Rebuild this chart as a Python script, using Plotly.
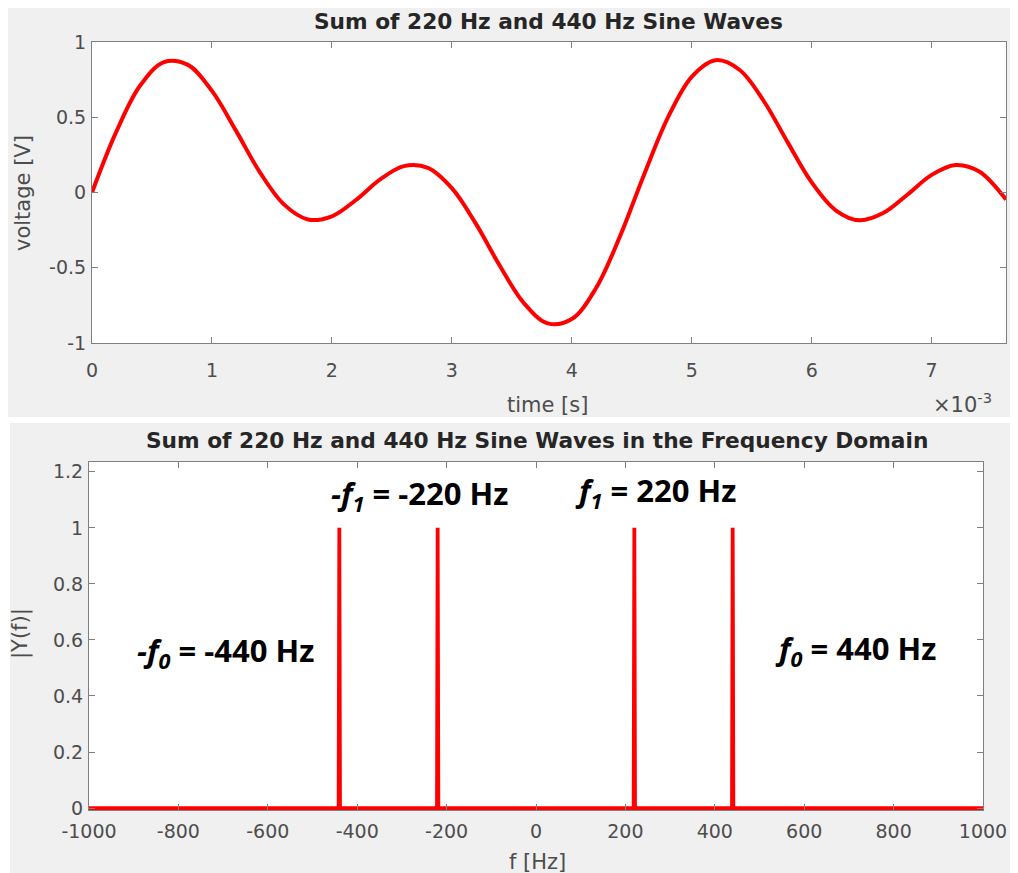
import plotly.graph_objects as go

# ---- data ----
time_ms = [0.0, 0.2, 0.4, 0.6, 0.8, 1.0, 1.2, 1.4, 1.6, 1.8, 2.0, 2.2, 2.4, 2.6, 2.8,
           3.0, 3.2, 3.4, 3.6, 3.8, 4.0, 4.2, 4.4, 4.6, 4.8, 5.0, 5.2, 5.4, 5.6, 5.8,
           6.0, 6.2, 6.4, 6.6, 6.8, 7.0, 7.2, 7.4, 7.6, 7.62]
voltage = [0.0, 0.399, 0.709, 0.867, 0.848, 0.675, 0.411, 0.134, -0.079, -0.179,
           -0.158, -0.050, 0.085, 0.175, 0.164, 0.029, -0.207, -0.487, -0.734, -0.870,
           -0.841, -0.638, -0.295, 0.113, 0.496, 0.769, 0.879, 0.814, 0.608, 0.333,
           0.067, -0.118, -0.185, -0.135, -0.013, 0.117, 0.183, 0.138, -0.026, -0.048]

peak_freqs = [-440, -220, 220, 440]
peak_mags = [1.0, 1.0, 1.0, 1.0]
freq_range = [-1000, 1000]

time_ticks = [0, 1, 2, 3, 4, 5, 6, 7]
time_ticktext = ["0", "1", "2", "3", "4", "5", "6", "7"]
volt_ticks = [-1, -0.5, 0, 0.5, 1]
volt_ticktext = ["-1", "-0.5", "0", "0.5", "1"]
freq_ticks = [-1000, -800, -600, -400, -200, 0, 200, 400, 600, 800, 1000]
freq_ticktext = ["-1000", "-800", "-600", "-400", "-200", "0", "200", "400", "600", "800", "1000"]
mag_ticks = [0, 0.2, 0.4, 0.6, 0.8, 1.0, 1.2]
mag_ticktext = ["0", "0.2", "0.4", "0.6", "0.8", "1", "1.2"]

labels = ["<i>-f<sub>0</sub></i> = -440 Hz", "<i>-f<sub>1</sub></i> = -220 Hz",
          "<i>f<sub>1</sub></i> = 220 Hz", "<i>f<sub>0</sub></i> = 440 Hz"]
label_x = [-695, -260, 267, 714]
label_y = [0.557, 1.118, 1.129, 0.564]

# spectrum line built from peaks (baseline + narrow spikes)
fx, fy = [freq_range[0]], [0.0]
for f, m in zip(peak_freqs, peak_mags):
    fx += [f - 1.5, f, f + 1.5]
    fy += [0.0, m, 0.0]
fx.append(freq_range[1]); fy.append(0.0)

# page has an 8px body margin; figure coordinates = reference pixels - 8
W, H = 1010, 865
OFF = 8
def px_x(a, b): return [(a - OFF) / W, (b - OFF) / W]
def px_y(top, bot): return [1 - (bot - OFF) / H, 1 - (top - OFF) / H]
def pxX(a): return (a - OFF) / W
def pxY(a): return 1 - (a - OFF) / H

fig = go.Figure()
fig.add_trace(go.Scatter(x=time_ms, y=voltage, mode="lines",
                         line=dict(color="#ff0000", width=4, shape="spline", smoothing=1.0),
                         xaxis="x", yaxis="y", showlegend=False))
fig.add_trace(go.Scatter(x=fx, y=fy, mode="lines", line=dict(color="#ff0000", width=3.8),
                         xaxis="x2", yaxis="y2", showlegend=False))

FONT = "DejaVu Sans, Arial, sans-serif"
tick_font = dict(family=FONT, size=19, color="#4d4d4d")
axis_common = dict(showline=True, linecolor="#808080", linewidth=1, mirror="allticks",
                   ticks="inside", ticklen=6, tickcolor="#808080", showgrid=False,
                   zeroline=False, tickfont=tick_font, automargin=False, tickmode="array")

fig.update_layout(
    template="none",
    width=W, height=H, margin=dict(l=0, r=0, t=0, b=0, pad=0),
    paper_bgcolor="#f0f0f0", plot_bgcolor="white",
    xaxis=dict(domain=px_x(92, 1006), anchor="y", range=[0, 7.62], tickvals=time_ticks,
               ticktext=time_ticktext, ticklabelstandoff=10, **axis_common),
    yaxis=dict(domain=px_y(42, 343), anchor="x", range=[-1, 1], tickvals=volt_ticks,
               ticktext=volt_ticktext, ticklabelstandoff=1, **axis_common),
    xaxis2=dict(domain=px_x(89, 983), anchor="y2", range=freq_range, tickvals=freq_ticks,
                ticktext=freq_ticktext, ticklabelstandoff=4, **axis_common),
    yaxis2=dict(domain=px_y(462, 810), anchor="x2", range=[-0.007, 1.235], tickvals=mag_ticks,
                ticktext=mag_ticktext, ticklabelstandoff=1, **axis_common),
)

ann = []
title_font = dict(family=FONT, size=21.7, color="#262626")
lab_font = dict(family=FONT, size=21, color="#4d4d4d")
def pa(text, x, y, font, **kw):
    d = dict(text=text, x=pxX(x), y=pxY(y), xref="paper", yref="paper", showarrow=False,
             xanchor="center", yanchor="middle", font=font)
    d.update(kw)
    return d
ann.append(pa("<b>Sum of 220 Hz and 440 Hz Sine Waves</b>", 548, 22, title_font))
ann.append(pa("<b>Sum of 220 Hz and 440 Hz Sine Waves in the Frequency Domain</b>", 537, 440, title_font))
ann.append(pa("time [s]", 547, 405, lab_font))
ann.append(pa("voltage [V]", 23, 193, lab_font, textangle=-90))
ann.append(pa("×10<sup>-3</sup>", 931, 403, lab_font, xanchor="left"))
ann.append(pa("f [Hz]", 537, 862, lab_font))
ann.append(pa("|Y(f)|", 20, 634, lab_font, textangle=-90))
for t, x, y in zip(labels, label_x, label_y):
    ann.append(dict(text="<b>" + t + "</b>", x=x, y=y, xref="x2", yref="y2", showarrow=False,
                    xanchor="center", yanchor="middle",
                    font=dict(family="Open Sans, Lato, sans-serif", size=31, color="black")))
fig.update_layout(annotations=ann)

fig.update_layout(shapes=[
    dict(type="rect", xref="paper", yref="paper", x0=0, x1=1, y0=pxY(423), y1=pxY(417),
         fillcolor="white", line=dict(width=0), layer="below"),
    dict(type="rect", xref="paper", yref="paper", x0=0, x1=pxX(10), y0=0, y1=pxY(423),
         fillcolor="white", line=dict(width=0), layer="below"),
])

fig.write_html("out.html")
